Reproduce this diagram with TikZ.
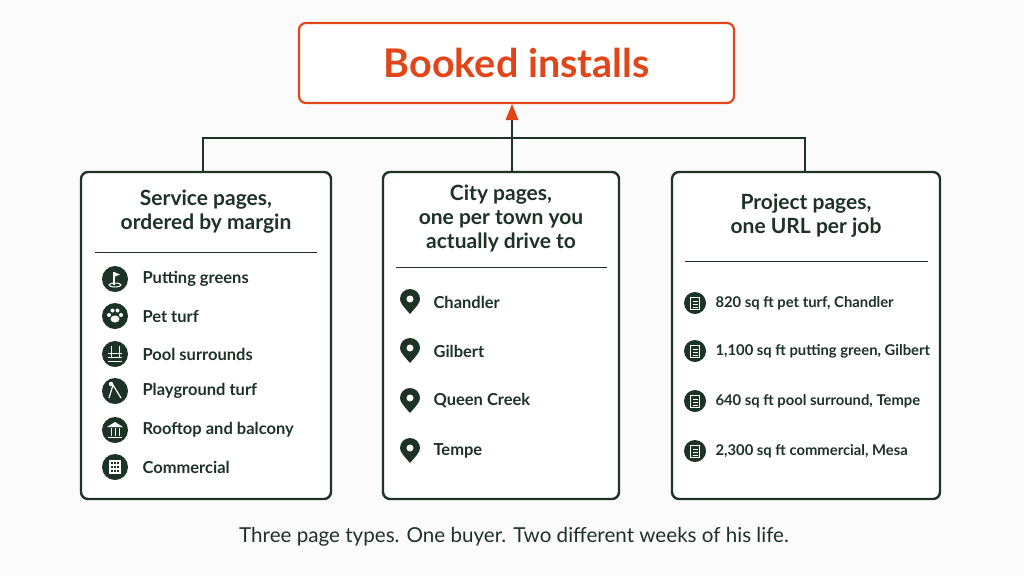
\documentclass[tikz,border=0pt]{standalone}
\usepackage{fontspec}
\setmainfont{Lato}
\usetikzlibrary{arrows.meta}
\definecolor{dkgreen}{HTML}{1C3326}
\definecolor{brick}{HTML}{E0461A}
\tikzset{
  panel/.style={draw=dkgreen, line width=2.4pt, rounded corners=7pt, fill=white},
  head/.style={text=dkgreen, align=center, font=\fontsize{21}{24}\selectfont\bfseries},
  item/.style={anchor=west, text=dkgreen, font=\fontsize{16.5}{18}\selectfont\bfseries},
  link/.style={draw=dkgreen, line width=2.2pt},
  badge/.style={fill=dkgreen, draw=none},
}
\begin{document}
\begin{tikzpicture}[x=1pt,y=-1pt]
\fill[white!97!gray] (0,0) rectangle (1024,576);
\useasboundingbox (0,0) rectangle (1024,576);

% top box
\node[draw=brick, line width=2.2pt, rounded corners=7pt, fill=white,
      minimum width=435pt, minimum height=80pt, text=brick,
      font=\fontsize{39.5}{40}\selectfont\bfseries] (booked) at (516.5,63) {Booked installs};

% panels
\node[panel, minimum width=250pt, minimum height=327pt] (service) at (206,335.5) {};
\node[panel, minimum width=236pt, minimum height=327pt] (city) at (501,335.5) {};
\node[panel, minimum width=268pt, minimum height=327pt] (project) at (806,335.5) {};

% connectors
\coordinate (jl) at (203,138);
\coordinate (jr) at (805,138);
\coordinate (jm) at (512,120);
\draw[link] (203,172) -- (jl) -- (jr) -- (805,172);
\draw[link] (512,172) -- (jm);
\fill[brick] (512,104) -- (518.5,120) -- (505.5,120) -- cycle;

% headers
\node[head] (hs) at (206,212) {Service pages,\\ordered by margin};
\draw[dkgreen, line width=1pt] (95,252) -- (317,252);
\node[head] (hc) at (501,218) {City pages,\\one per town you\\actually drive to};
\draw[dkgreen, line width=1pt] (396,267) -- (607,267);
\node[head] (hp) at (806,216) {Project pages,\\one URL per job};
\draw[dkgreen, line width=1pt] (685,261) -- (928,261);

% service items
\foreach \y/\txt in {279/Putting greens, 316/Pet turf, 354/Pool surrounds,
                     391/Playground turf, 430/Rooftop and balcony, 467/Commercial}{
  \fill[badge] (115,\y) circle (13);
  \node[item] at (139,\y) {\txt};
}
% glyphs
\draw[white, line width=1pt] (115,285) ellipse (6 and 2);
\draw[white, line width=1.2pt] (114,285) -- (114,272);
\fill[white] (114,272) -- (120,274.5) -- (114,277) -- cycle;
\fill[white] (115,319) ellipse (4.5 and 3.5);
\foreach \dx/\dy in {-6/-1,-2.5/-5.5,2.5/-5.5,6/-1}
  \fill[white] (115+\dx,316+\dy) circle (2);
\foreach \dy in {-1,3,7}
  \draw[white, line width=1pt] (108,354+\dy) -- (122,354+\dy);
\draw[white, line width=1pt] (111,358) -- (111,346) (119,358) -- (119,346);
\draw[white, line width=1.2pt] (109,398) -- (113,385) -- (121,398);
\fill[white] (111,384) circle (2.2);
\fill[white] (115,422) -- (123,427) -- (107,427) -- cycle;
\draw[white, line width=1pt] (108,437) -- (122,437);
\foreach \dx in {-4,0,4} \draw[white, line width=1pt] (115+\dx,428) -- (115+\dx,436);
\fill[white] (109,460) rectangle (121,474);
\foreach \dx in {-3,0,3} \foreach \dy in {-4,0,4}
  \fill[dkgreen] (114.2+\dx,466.2+\dy) rectangle (115.8+\dx,467.8+\dy);

% city items
\foreach \y/\txt in {302/Chandler, 351/Gilbert, 401/Queen Creek, 451/Tempe}{
  \fill[dkgreen] (410,\y+12) .. controls (404,\y+5) and (400,\y+1) .. (400,\y-3)
     arc (180:360:10) .. controls (420,\y+1) and (416,\y+5) .. (410,\y+12);
  \fill[white] (410,\y-3) circle (3.5);
  \node[item] at (430,\y) {\txt};
}

% project items
\foreach \y/\txt in {303/{820 sq ft pet turf, Chandler}, 351/{1,100 sq ft putting green, Gilbert},
                     401/{640 sq ft pool surround, Tempe}, 451/{2,300 sq ft commercial, Mesa}}{
  \fill[badge] (695,\y) circle (11);
  \draw[white, line width=1pt] (690.5,\y-6) rectangle (699.5,\y+6);
  \foreach \dy in {-2,1,4} \draw[white, line width=0.8pt] (692.5,\y+\dy) -- (697.5,\y+\dy);
  \node[item, font=\fontsize{14.8}{17}\selectfont\bfseries] at (712,\y) {\txt};
}

% caption
\node[text=dkgreen, font=\fontsize{20.6}{22}\selectfont] (caption) at (514,537)
  {Three page types. One buyer. Two different weeks of his life.};
\end{tikzpicture}
\end{document}
